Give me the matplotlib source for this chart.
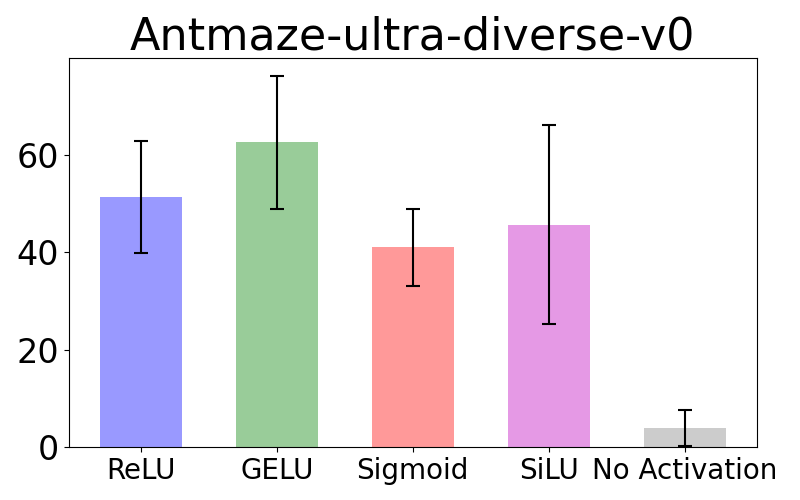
import matplotlib
matplotlib.use("Agg")
import matplotlib.pyplot as plt

# activation functions and their scores
activations = ["ReLU", "GELU", "Sigmoid", "SiLU", "No Activation"]
scores = [51.3, 62.5, 41.0, 45.6, 3.9]
errors = [11.5, 13.6, 7.9, 20.4, 3.7]
colors = ["blue", "green", "red", "m", "gray"]

fig, ax = plt.subplots(figsize=(8, 5), dpi=100)
ax.bar(activations, scores, width=0.6, color=colors, alpha=0.4,
       yerr=errors, capsize=5, error_kw={"elinewidth": 1.5, "capthick": 1.5, "ecolor": "black"})
ax.set_title("Antmaze-ultra-diverse-v0", fontsize=32)
ax.tick_params(axis="y", labelsize=24)
ax.tick_params(axis="x", labelsize=20)
ax.set_ylim(0, 79.8)
fig.subplots_adjust(left=0.086, right=0.946, top=0.884, bottom=0.106)
fig.savefig("out.png", dpi=100)
